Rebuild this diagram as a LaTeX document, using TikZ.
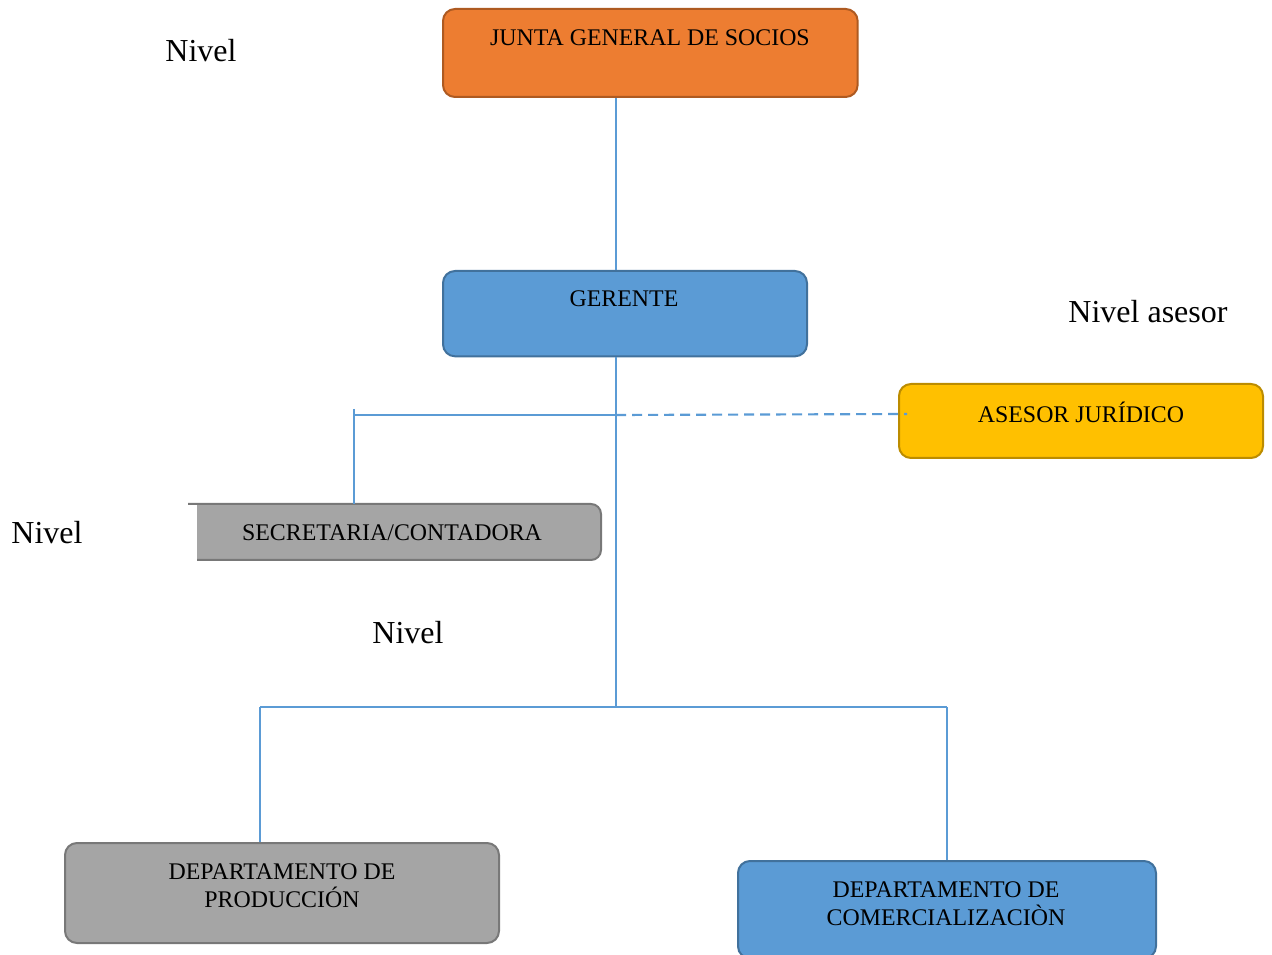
\documentclass[tikz,border=0pt]{standalone}
\usepackage{fontspec}
\setmainfont{Liberation Serif}
\begin{document}
\begin{tikzpicture}[x=0.75pt,y=0.75pt,
  box/.style={draw, line width=1.5pt, rounded corners=9pt, inner sep=0pt, anchor=north west},
  boxtext/.style={font=\fontsize{17.9}{21}\selectfont, align=center, inner sep=0pt},
  lvl/.style={font=\fontsize{24}{28}\selectfont, inner sep=0pt},
  link/.style={draw=lineblue, line width=1.6pt},
  dashlink/.style={link, dash pattern=on 7.5pt off 4.5pt}]
\definecolor{orangefill}{HTML}{ED7D31}\definecolor{orangeline}{HTML}{AE5A21}
\definecolor{bluefill}{HTML}{5B9BD5}\definecolor{blueline}{HTML}{41719C}
\definecolor{goldfill}{HTML}{FFC000}\definecolor{goldline}{HTML}{BC8C00}
\definecolor{grayfill}{HTML}{A5A5A5}\definecolor{grayline}{HTML}{787878}
\definecolor{lineblue}{HTML}{5B9BD5}
\useasboundingbox (0,0) rectangle (1272,-955);
\clip (0,0) rectangle (1272,-955);

% boxes
\node[box, fill=orangefill, draw=orangeline, minimum width=311pt, minimum height=66pt] (junta) at (442,-8) {};
\node[boxtext] (juntaT) at (650,-38) {JUNTA GENERAL DE SOCIOS};
\node[box, fill=bluefill, draw=blueline, minimum width=273pt, minimum height=64pt] (gerente) at (442,-270) {};
\node[boxtext] (gerenteT) at (624,-299) {GERENTE};
\node[box, fill=goldfill, draw=goldline, minimum width=273pt, minimum height=55.5pt] (asesor) at (898,-383) {};
\node[boxtext] (asesorT) at (1081,-412) {ASESOR JURÍDICO};
\node[box, fill=grayfill, draw=grayline, minimum width=325.5pt, minimum height=75pt] (prod) at (64,-842) {};
\node[boxtext] (prodT) at (282,-886) {DEPARTAMENTO DE\\PRODUCCIÓN};
\node[box, fill=bluefill, draw=blueline, minimum width=313.5pt, minimum height=73pt] (com) at (737,-860) {};
\node[boxtext] (comT) at (946,-904) {DEPARTAMENTO DE\\COMERCIALIZACIÒN};

% secretaria box, open on its left side
\fill[grayfill] (197,-504) -- (591,-504) arc[start angle=90,end angle=0,radius=10]
  -- (601,-550) arc[start angle=0,end angle=-90,radius=10] -- (197,-560) -- cycle;
\draw[grayline, line width=1.5pt] (188,-504) -- (591,-504) arc[start angle=90,end angle=0,radius=10]
  -- (601,-550) arc[start angle=0,end angle=-90,radius=10] -- (197,-560);
\coordinate (secr) at (354,-504);
\node[boxtext] (secrT) at (392,-533) {SECRETARIA/CONTADORA};

% level labels
\node[lvl] (n1) at (201,-51) {Nivel};
\node[lvl] (n2) at (1148,-312) {Nivel asesor};
\node[lvl] (n3) at (47,-533) {Nivel};
\node[lvl] (n4) at (408,-633) {Nivel};

% connectors
\coordinate (trunk) at (616,0);
\coordinate (staff) at (616,-415);
\coordinate (staffL) at (354,-415);
\coordinate (bar) at (616,-707);
\coordinate (barL) at (260,-707);
\coordinate (barR) at (947,-707);
\draw[link] (junta.south -| trunk) -- (gerente.north -| trunk);
\draw[link] (gerente.south -| trunk) -- (bar);
\draw[link] (staff) -- (staffL);
\draw[link] (354,-409) -- (secr);
\draw[dashlink] (staff) -- (907,-414);
\draw[link] (barL) -- (barR);
\draw[link] (barL) -- (prod.north -| barL);
\draw[link] (barR) -- (com.north -| barR);
\end{tikzpicture}
\end{document}
